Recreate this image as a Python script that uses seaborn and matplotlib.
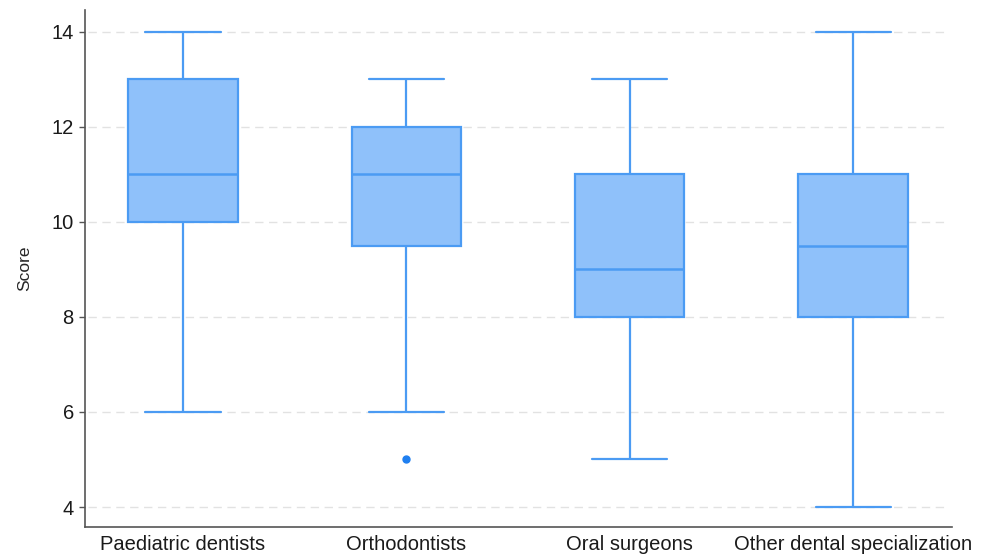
import matplotlib
matplotlib.use("Agg")
import matplotlib.pyplot as plt
import seaborn as sns
import pandas as pd

# Scores per specialty group (min, quartiles, max and the one outlier)
categories = ["Paediatric dentists", "Orthodontists", "Oral surgeons",
              "Other dental specialization"]
paediatric = [6, 10, 11, 13, 14]
orthodontists = [5, 6, 9.5, 10, 11, 11.5, 12, 12.5, 13]
oral_surgeons = [5, 8, 9, 11, 13]
other_special = [4, 8, 9.5, 11, 14]
y_ticks = [4, 6, 8, 10, 12, 14]

groups = [paediatric, orthodontists, oral_surgeons, other_special]
df = pd.DataFrame({
    "group": [c for c, g in zip(categories, groups) for _ in g],
    "Score": [v for g in groups for v in g],
})

sns.set_theme(style="white")
plt.rcParams["font.family"] = ["Liberation Sans", "DejaVu Sans"]

fill = "#8fc1fa"
edge = "#4b9bf3"

fig = plt.figure(figsize=(9.88, 5.55), dpi=100)
ax = fig.add_axes([0.086, 0.0505, 0.8776, 0.9315])

for y in y_ticks:
    ax.axhline(y, xmin=0.003, xmax=0.995, color="#e2e2e2", lw=1.0,
               ls=(0, (6, 4)), zorder=0)

sns.boxplot(
    data=df, x="group", y="Score", order=categories, ax=ax,
    width=0.49, color=fill, linewidth=1.6, linecolor=edge,
    boxprops=dict(facecolor=fill, edgecolor=edge),
    medianprops=dict(color=edge, linewidth=1.8),
    whiskerprops=dict(color=edge), capprops=dict(color=edge),
    flierprops=dict(marker="o", markersize=5, markerfacecolor="#1f7ff0",
                    markeredgecolor="#1f7ff0"),
    zorder=2,
)

# narrower whisker caps
for line in ax.lines:
    xd = list(line.get_xdata())
    yd = list(line.get_ydata())
    if len(xd) == 2 and yd[0] == yd[1] and xd[0] != xd[1]:
        c = (xd[0] + xd[1]) / 2
        half = abs(xd[1] - xd[0]) / 2
        if half < 0.2:
            line.set_xdata([c - 0.168, c + 0.168])

ax.set_xlim(-0.439, 3.443)
ax.set_ylim(3.58, 14.46)
ax.set_yticks(y_ticks)
ax.set_xlabel("")
ax.set_ylabel("Score", fontsize=12.5, labelpad=14)
ax.tick_params(axis="y", which="major", length=4, width=1, color="#555555",
               labelsize=14.5, pad=4, left=True)
ax.tick_params(axis="x", length=0, labelsize=14.5, pad=6)
for lab in ax.get_yticklabels():
    lab.set_color("#1a1a1a")
for lab in ax.get_xticklabels():
    lab.set_color("#1a1a1a")

for s in ["top", "right"]:
    ax.spines[s].set_visible(False)
for s in ["left", "bottom"]:
    ax.spines[s].set_color("#555555")
    ax.spines[s].set_linewidth(1.2)

fig.savefig("out.png", dpi=100)
